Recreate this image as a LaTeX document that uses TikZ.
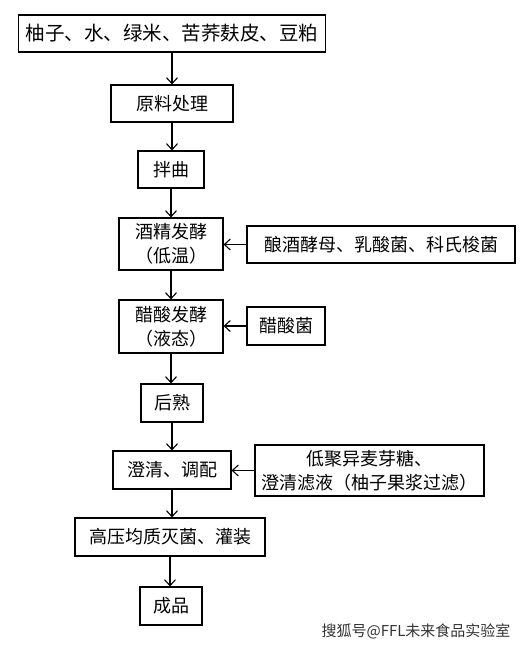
\documentclass[tikz,border=0pt]{standalone}
\usepackage{fontspec}
\newfontfamily\cjk{Noto Sans CJK SC}
\usetikzlibrary{arrows.meta}

\tikzset{
  stepbox/.style={draw,line width=1.1pt,inner sep=0pt,align=center,
    font=\cjk\fontsize{18}{24}\selectfont},
  flow/.style={line width=1.1pt,-{Straight Barb[length=6pt,width=11pt]}}
}

\begin{document}
\begin{tikzpicture}[x=1pt,y=-1pt]
  \useasboundingbox (0,0) rectangle (528,648);

  % Main process chain, top to bottom.
  \node[stepbox,minimum width=307pt,minimum height=37pt,font=\cjk\fontsize{19.5}{24}\selectfont]
    (raw) at (172,33.5) {柚子、水、绿米、苦荞麸皮、豆粕};
  \node[stepbox,minimum width=122pt,minimum height=37pt] (prep) at (172,103.5) {原料处理};
  \node[stepbox,minimum width=66pt,minimum height=37pt] (mix) at (171,169.5) {拌曲};
  \node[stepbox,minimum width=104pt,minimum height=52pt] (alc) at (171,244) {酒精发酵\\（低温）};
  \node[stepbox,minimum width=104pt,minimum height=53pt] (ace) at (171,326.5) {醋酸发酵\\（液态）};
  \node[stepbox,minimum width=62pt,minimum height=38pt] (age) at (172,403) {后熟};
  \node[stepbox,minimum width=118pt,minimum height=38pt] (blend) at (172,470) {澄清、调配};
  \node[stepbox,minimum width=190pt,minimum height=38pt] (steril) at (170,537) {高压均质灭菌、灌装};
  \node[stepbox,minimum width=62pt,minimum height=38pt] (prod) at (171,606) {成品};

  % Side inputs.
  \node[stepbox,minimum width=268pt,minimum height=37pt] (yeast) at (381,244.5) {酿酒酵母、乳酸菌、科氏梭菌};
  \node[stepbox,minimum width=78pt,minimum height=38pt] (aab) at (286,326) {醋酸菌};
  \node[stepbox,minimum width=229pt,minimum height=51pt] (syrup) at (369.5,470.5)
    {低聚异麦芽糖、\\澄清滤液（柚子果浆过滤）};

  \foreach \a/\b in {raw/prep,prep/mix,mix/alc,alc/ace,ace/age,age/blend,blend/steril,steril/prod} {
    \draw[flow] (\a) -- (\a |- \b.north);
  }
  \foreach \a/\b in {yeast/alc,aab/ace,syrup/blend} {
    \draw[flow] (\a.west) -- (\a.west -| \b.east);
  }

  \node[anchor=east,text=black!80,font=\cjk\fontsize{15}{18}\selectfont] (mark) at (514,631) {搜狐号@FFL未来食品实验室};
\end{tikzpicture}
\end{document}
